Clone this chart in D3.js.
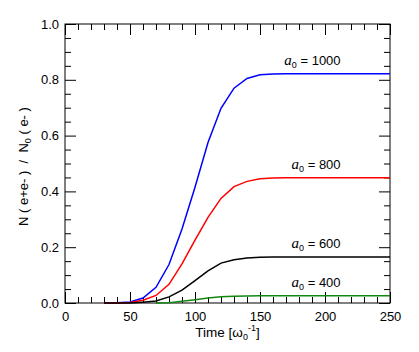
<!DOCTYPE html>
<html>
<head>
<meta charset="utf-8">
<script src="https://cdn.jsdelivr.net/npm/d3@7"></script>
<style>
  body { margin: 0; background: #fff; }
  text { font-family: "Liberation Sans", Arial, Helvetica, sans-serif; }
  .axis path { display: none; }
  .axis line { stroke: #000; }
  .line { fill: none; stroke-width: 1.5; }
</style>
</head>
<body>
<script>
var width = 419, height = 352;
var margin = {top: 24, right: 29, bottom: 49, left: 65};

// time in units of 1/omega_0
var time = [30, 40, 50, 60, 70, 80, 90, 100, 110, 120, 130, 140, 150, 160, 170, 180, 190, 200, 210, 220, 230, 240, 250];
var a1000 = [0, 0.001, 0.004, 0.018, 0.056, 0.138, 0.265, 0.415, 0.575, 0.698, 0.77, 0.805, 0.818, 0.821, 0.822, 0.822, 0.822, 0.822, 0.822, 0.822, 0.822, 0.822, 0.822];
var a800 = [0, 0, 0.002, 0.01, 0.027, 0.067, 0.14, 0.225, 0.307, 0.375, 0.417, 0.436, 0.445, 0.448, 0.449, 0.449, 0.449, 0.449, 0.449, 0.449, 0.449, 0.449, 0.449];
var a600 = [0, 0, 0, 0.003, 0.007, 0.022, 0.046, 0.08, 0.115, 0.143, 0.155, 0.161, 0.164, 0.165, 0.165, 0.165, 0.165, 0.165, 0.165, 0.165, 0.165, 0.165, 0.165];
var a400 = [null, null, null, null, 0, 0.001, 0.006, 0.012, 0.018, 0.022, 0.024, 0.025, 0.026, 0.026, 0.026, 0.026, 0.026, 0.026, 0.026, 0.026, 0.026, 0.026, 0.026];

var seriesNames = ["1000", "800", "600", "400"];
var seriesColors = ["#0000ff", "#ff0000", "#000000", "#118811"];
var seriesValues = [a1000, a800, a600, a400];

var xTicks = [0, 50, 100, 150, 200, 250];
var yTicks = [0, 0.2, 0.4, 0.6, 0.8, 1.0];

var w = width - margin.left - margin.right;
var h = height - margin.top - margin.bottom;

var svg = d3.select("body").append("svg")
  .attr("width", width)
  .attr("height", height);

var g = svg.append("g")
  .attr("transform", "translate(" + margin.left + "," + margin.top + ")");

var x = d3.scaleLinear().domain([0, 250]).range([0, w]);
var y = d3.scaleLinear().domain([0, 1]).range([h, 0]);

var minorX = d3.range(0, 251, 10).filter(function(d) { return d % 50 !== 0; });
var minorY = d3.range(0, 1.001, 0.05).filter(function(d) { return Math.abs(d * 5 - Math.round(d * 5)) > 1e-6; });

// bottom axis with labels
g.append("g").attr("class", "axis")
  .attr("transform", "translate(0," + h + ")")
  .call(d3.axisBottom(x).tickValues(xTicks).tickSizeInner(-11).tickSizeOuter(0).tickPadding(4)
    .tickFormat(d3.format("d")))
  .selectAll("text").attr("font-size", 13).attr("fill", "#000").attr("dy", "1.05em");
g.append("g").attr("class", "axis")
  .attr("transform", "translate(0," + h + ")")
  .call(d3.axisBottom(x).tickValues(minorX).tickSize(-6).tickFormat(""));

// top mirror
g.append("g").attr("class", "axis")
  .call(d3.axisTop(x).tickValues(xTicks).tickSize(-11).tickFormat(""));
g.append("g").attr("class", "axis")
  .call(d3.axisTop(x).tickValues(minorX).tickSize(-6).tickFormat(""));

// left axis
g.append("g").attr("class", "axis")
  .call(d3.axisLeft(y).tickValues(yTicks).tickSizeInner(-11).tickSizeOuter(0).tickPadding(6)
    .tickFormat(d3.format(".1f")))
  .selectAll("text").attr("font-size", 13).attr("fill", "#000");
g.append("g").attr("class", "axis")
  .call(d3.axisLeft(y).tickValues(minorY).tickSize(-6).tickFormat(""));

// right mirror
g.append("g").attr("class", "axis")
  .attr("transform", "translate(" + w + ",0)")
  .call(d3.axisRight(y).tickValues(yTicks).tickSize(-11).tickFormat(""));
g.append("g").attr("class", "axis")
  .attr("transform", "translate(" + w + ",0)")
  .call(d3.axisRight(y).tickValues(minorY).tickSize(-6).tickFormat(""));

// frame
g.append("rect")
  .attr("width", w).attr("height", h)
  .attr("fill", "none").attr("stroke", "#000").attr("stroke-width", 1);

var line = d3.line()
  .defined(function(d) { return d[1] !== null; })
  .x(function(d) { return x(d[0]); })
  .y(function(d) { return y(d[1]); });

seriesValues.forEach(function(vals, i) {
  var pts = time.map(function(t, j) { return [t, vals[j]]; });
  g.append("path")
    .attr("class", "line")
    .attr("stroke", seriesColors[i])
    .attr("d", line(pts));

  var last = vals[vals.length - 1];
  var lab = g.append("text")
    .attr("x", x(212))
    .attr("y", y(last) - 9)
    .attr("text-anchor", "end")
    .attr("font-size", 13)
    .attr("fill", "#000");
  lab.append("tspan").attr("font-style", "italic")
    .attr("font-family", "'Liberation Serif', 'Times New Roman', serif")
    .attr("font-size", 15).text("a");
  lab.append("tspan").attr("font-size", 9).attr("dy", 3).text("0");
  lab.append("tspan").attr("dy", -3).text(" = " + seriesNames[i]);
});

// x label
var xl = svg.append("text")
  .attr("x", margin.left + w / 2)
  .attr("y", 337)
  .attr("text-anchor", "middle")
  .attr("font-size", 13.5)
  .attr("fill", "#000");
xl.append("tspan").text("Time [\u03c9");
xl.append("tspan").attr("font-size", 9).attr("dy", 3).text("0");
xl.append("tspan").attr("font-size", 9).attr("dy", -9).text("-1");
xl.append("tspan").attr("dy", 6).text("]");

// y label
var yl = svg.append("text")
  .attr("transform", "translate(28," + (margin.top + h / 2 + 3) + ") rotate(-90)")
  .attr("text-anchor", "middle")
  .attr("font-size", 13)
  .attr("fill", "#000");
yl.append("tspan").text("N ( e+e- )\u00a0\u00a0/\u00a0\u00a0N");
yl.append("tspan").attr("font-size", 9).attr("dy", 3).text("0");
yl.append("tspan").attr("dy", -3).text(" ( e- )");
</script>
</body>
</html>
